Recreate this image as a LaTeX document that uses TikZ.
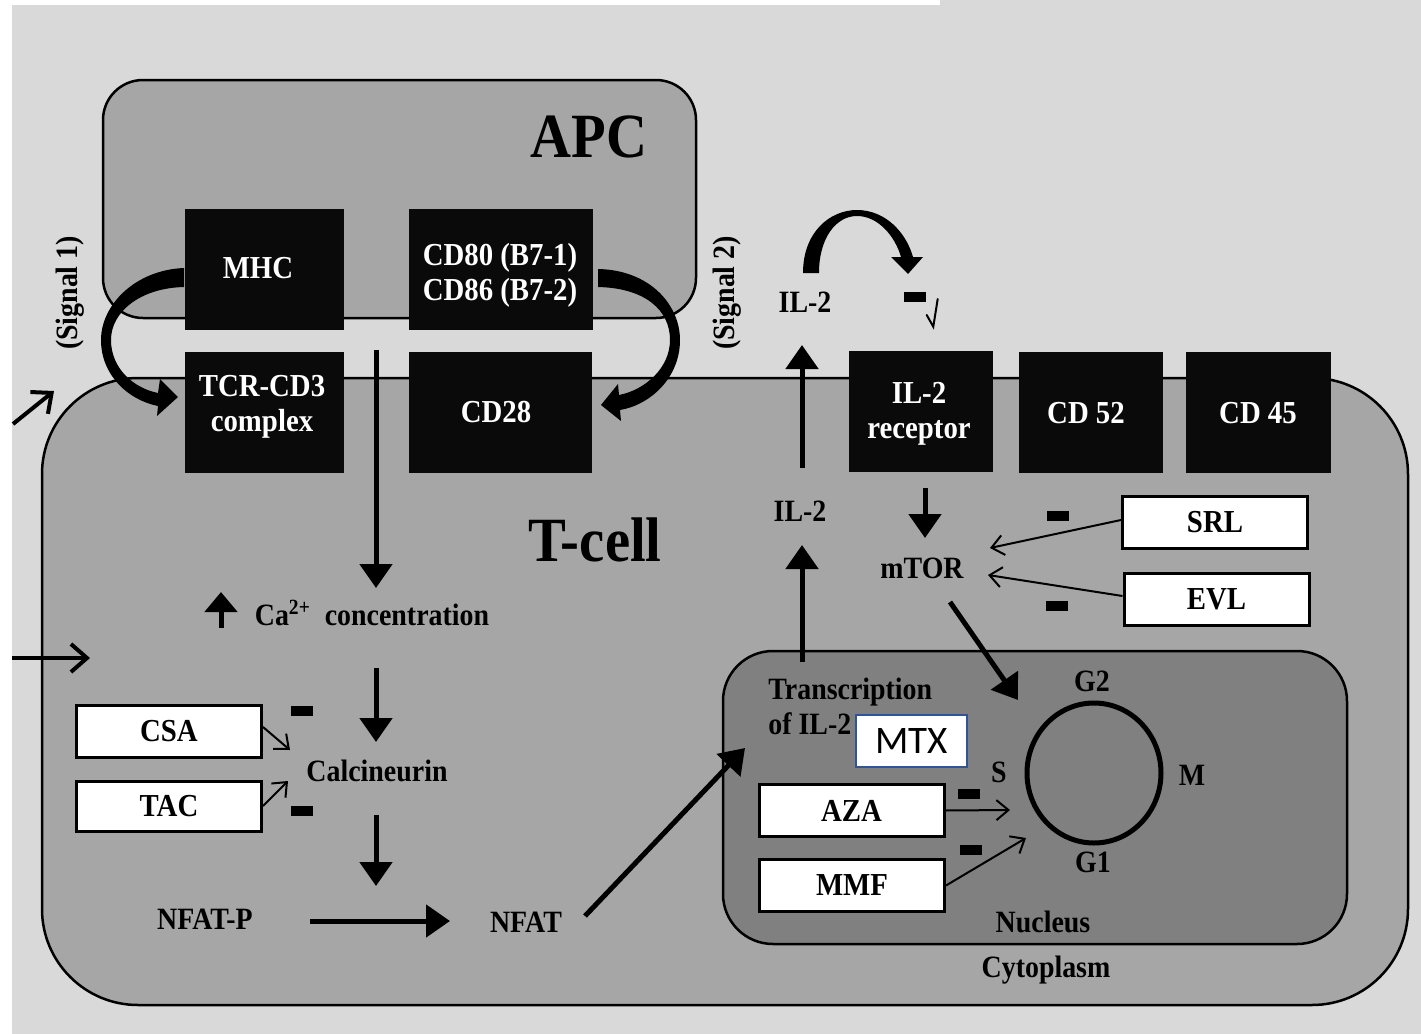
\documentclass[tikz,border=0pt]{standalone}
\usepackage{fontspec}
\usepackage{graphicx}
\setmainfont{Liberation Serif}[FakeStretch=0.9]
\newfontfamily\calibri{Carlito}
\usetikzlibrary{arrows.meta}

\definecolor{bgray}{HTML}{D9D9D9}
\definecolor{cellgray}{HTML}{A6A6A6}
\definecolor{nucgray}{HTML}{808080}
\definecolor{boxblack}{HTML}{0A0A0A}
\definecolor{mtxblue}{HTML}{2F5597}

\newcommand\boxfont{\fontsize{16}{17.5}\selectfont\bfseries}
\newcommand\lblfont{\fontsize{15.5}{17.5}\selectfont\bfseries}
\newcommand\bigfont{\fontsize{31.5}{34}\selectfont\bfseries}

\tikzset{
  membrane/.style={draw=black, line width=1.25pt},
  blackbox/.style={fill=boxblack, inner sep=0pt, minimum height=60.5pt},
  boxtext/.style={text=white, font=\boxfont, align=center, inner sep=0pt},
  drugbox/.style={draw=black, line width=1.5pt, fill=white, font=\boxfont,
    inner sep=0pt, minimum width=92.5pt, minimum height=26pt},
  lbl/.style={font=\lblfont, inner sep=0pt},
  minus/.style={fill=black, inner sep=0pt, minimum width=11pt, minimum height=5pt},
  fat/.style={line width=2.5pt, -{Triangle[length=12pt,width=16pt]}},
  slim/.style={line width=1pt, -{Straight Barb[length=6pt,width=10pt]}},
  outer/.style={line width=2pt, -{Straight Barb[length=8pt,width=14pt]}},
}

\begin{document}
\begin{tikzpicture}[x=0.5pt,y=-0.5pt]
\useasboundingbox (0,0) rectangle (1421,1034);

% backdrop
\fill[bgray] (0,0) rectangle (1421,1034);
\fill[white] (0,0) rectangle (940,5);
\fill[white] (0,0) rectangle (12,1034);

% cells
\draw[membrane, fill=cellgray, rounded corners=48pt] (42,378) rectangle (1408,1005);
\draw[membrane, fill=cellgray, rounded corners=20pt] (103,80) rectangle (696,318);
\draw[membrane, fill=nucgray, rounded corners=25pt] (723,651) rectangle (1347,944);

% receptors and ligands
\node[blackbox, minimum width=79.5pt] (mhc)  at (264.5,269.5) {};
\node[blackbox, minimum width=92pt]   (cd80) at (501,269.5) {};
\node[blackbox, minimum width=79.5pt] (tcr)  at (264.5,412.5) {};
\node[blackbox, minimum width=91.5pt] (cd28) at (500.5,412.5) {};
\node[blackbox, minimum width=72pt]   (il2r) at (921,411.5) {};
\node[blackbox, minimum width=72pt]   (cd52) at (1091,412.5) {};
\node[blackbox, minimum width=72.5pt] (cd45) at (1258.5,412.5) {};
\node[boxtext] (mhct)  at (258,268) {MHC};
\node[boxtext] (cd80t) at (500,275) {CD80 (B7-1)\\CD86 (B7-2)};
\node[boxtext] (tcrt)  at (262,407) {TCR-CD3\\complex};
\node[boxtext] (cd28t) at (496,412) {CD28};
\node[boxtext] (il2rt) at (919,414) {IL-2\\receptor};
\node[boxtext] (cd52t) at (1086,413) {CD 52};
\node[boxtext] (cd45t) at (1258,413) {CD 45};

% drugs
\node[drugbox] (csa) at (169,731) {CSA};
\node[drugbox, minimum height=25pt] (tac) at (169,806) {TAC};
\node[drugbox] (srl) at (1215,522) {SRL};
\node[drugbox] (evl) at (1216.5,599.5) {EVL};
\node[drugbox] (aza) at (851.5,810.5) {AZA};
\node[drugbox] (mmf) at (852,885.5) {MMF};
\node[draw=mtxblue, line width=1pt, fill=white, inner sep=0pt,
      minimum width=55.5pt, minimum height=26pt,
      font=\calibri\fontsize{19.5}{20}\selectfont] (mtx) at (911.5,741) {MTX};

% labels
\node[font=\bigfont, inner sep=0pt] (apc) at (589,137) {APC};
\node[font=\bigfont, inner sep=0pt] (tcell) at (595,540) {T-cell};
\node[lbl, rotate=90] (sig1) at (70,293) {(Signal 1)};
\node[lbl, rotate=90] (sig2) at (727,293) {(Signal 2)};
\node[lbl] (il2top) at (805,302) {IL-2};
\node[lbl] (il2low) at (800,511) {IL-2};
\node[lbl] (mtor) at (922,568) {mTOR};
\node[lbl] (ca) at (372,613) {Ca\textsuperscript{2+}\ \ concentration};
\node[lbl] (calc) at (377,771) {Calcineurin};
\node[lbl] (nfatp) at (205,919) {NFAT-P};
\node[lbl] (nfat) at (526,922) {NFAT};
\node[lbl, align=left, anchor=west] (trans) at (768,706) {Transcription\\of IL-2};
\node[lbl] (g2) at (1092,681) {G2};
\node[lbl] (s) at (999,772) {S};
\node[lbl] (m) at (1192,775) {M};
\node[lbl] (g1) at (1093,862) {G1};
\node[lbl] (nucleus) at (1043,922) {Nucleus};
\node[lbl] (cyto) at (1046,970) {Cytoplasm};

% cell cycle
\draw[line width=2.5pt] (1094,773) ellipse [x radius=33.5pt, y radius=35pt];
\coordinate (cycle) at (1094,773);

% inhibition marks
\node[minus] (mcsa) at (302,711) {};
\node[minus] (mtac) at (302,811) {};
\node[minus] (msrl) at (1058,516) {};
\node[minus] (mevl) at (1057,606) {};
\node[minus] (maza) at (969,794) {};
\node[minus] (mmmf) at (971,850) {};
\node[minus] (mil2) at (915,297) {};

% signal 1: tapered curved arrow from MHC to TCR-CD3
\fill[black] (184,268) .. controls (135,270) and (101,305) .. (101,340)
  .. controls (101,375) and (128,400) .. (158,406)
  -- (157,416) -- (178,397) -- (160,379) -- (158,393)
  .. controls (133,388) and (111,368) .. (111,340)
  .. controls (111,312) and (140,288) .. (184,287) -- cycle;

% signal 2: tapered curved arrow from CD80/CD86 to CD28
\fill[black] (598,269) .. controls (650,270) and (680,305) .. (680,340)
  .. controls (680,378) and (650,405) .. (620,410)
  -- (621,421) -- (601,405) -- (618,384) -- (619,395)
  .. controls (645,390) and (670,368) .. (670,340)
  .. controls (670,310) and (645,288) .. (598,287) -- cycle;

% IL-2 autocrine loop
\fill[black] (803,273) .. controls (803,232) and (830,210) .. (857,210)
  .. controls (885,210) and (906,232) .. (913,257)
  -- (923,257) -- (908,274) -- (891,257) -- (901,257)
  .. controls (895,236) and (878,216) .. (857,216)
  .. controls (836,216) and (819,238) .. (819,273) -- cycle;

% partial arrow towards the IL-2 receptor
\coordinate (pa) at (937.7,299);
\coordinate (pb) at (933.3,326.7);
\coordinate (pc) at (926.7,315);
\draw[line width=1pt, line cap=round] (pa) -- (pb) -- (pc);

% outside arrows
\coordinate (o1a) at (13,424);
\coordinate (o1b) at (54,391);
\coordinate (o2a) at (12,658);
\coordinate (o2b) at (90,658);
\draw[outer] (o1a) -- (o1b);
\draw[outer] (o2a) -- (o2b);

% calcineurin pathway
\coordinate (v1a) at (376,350);
\coordinate (v1b) at (376,588);
\coordinate (v2a) at (376,668);
\coordinate (v2b) at (376,742);
\coordinate (v3a) at (376,815);
\coordinate (v3b) at (376,886);
\coordinate (caa) at (221,628);
\coordinate (cab) at (221,592);
\draw[fat] (v1a) -- (v1b);
\draw[fat] (v2a) -- (v2b);
\draw[fat] (v3a) -- (v3b);
\draw[line width=2.5pt, -{Triangle[length=10pt,width=16pt]}] (caa) -- (cab);
\coordinate (npa) at (310,921);
\coordinate (npb) at (450,921);
\draw[fat] (npa) -- (npb);
\coordinate (nfa) at (585,916);
\coordinate (nfb) at (745,748);
\draw[fat] (nfa) -- (nfb);

% IL-2 route
\coordinate (ia) at (802,662);
\coordinate (ib) at (802,545);
\coordinate (ic) at (802,468);
\coordinate (id) at (802,345);
\draw[fat] (ia) -- (ib);
\draw[fat] (ic) -- (id);
\coordinate (ra) at (925,488);
\coordinate (rb) at (925,538);
\draw[fat] (ra) -- (rb);
\coordinate (ma) at (950,602);
\coordinate (mb) at (1018,700);
\draw[fat] (ma) -- (mb);

% drug actions
\draw[slim] (csa.east |- 0,727) -- (290,750);
\draw[slim] (tac.east |- 0,806) -- (288,781);
\draw[slim] (srl.west |- 0,520) -- (990,548);
\draw[slim] (evl.west |- 0,596) -- (988,575);
\draw[slim] (aza.east) -- (1010,810);
\draw[slim] (mmf.east) -- (1026,838);
\end{tikzpicture}
\end{document}
